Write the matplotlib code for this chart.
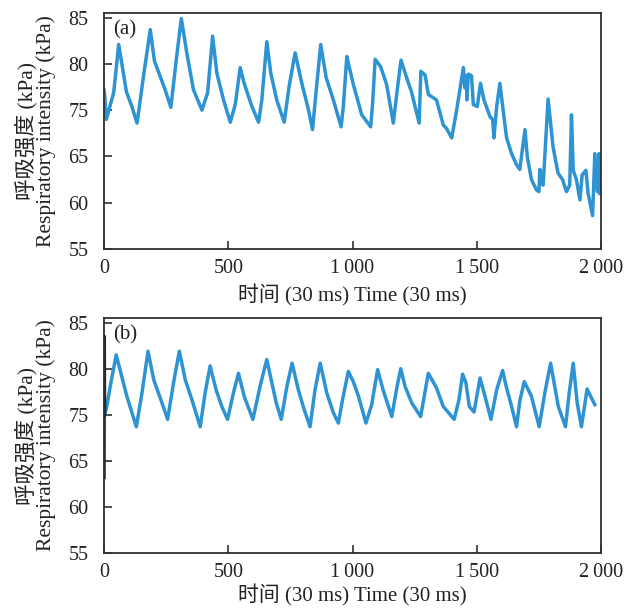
import matplotlib
matplotlib.use("Agg")
import matplotlib.pyplot as plt

# ---- data (panel a) ----
a_t = [0, 3, 9, 39, 59, 90, 112, 133, 159, 186, 203, 246, 269, 291, 311, 333, 360, 394,
       417, 437, 454, 481, 508, 528, 548, 564, 595, 622, 635, 655, 671, 695, 725, 745,
       769, 796, 823, 839, 853, 872, 894, 923, 954, 963, 977, 983, 1003, 1037, 1073,
       1081, 1091, 1113, 1137, 1164, 1180, 1195, 1218, 1238, 1268, 1275, 1292, 1305,
       1338, 1365, 1379, 1399, 1419, 1446, 1452, 1459, 1460, 1466, 1479, 1486, 1502,
       1515, 1529, 1553, 1564, 1569, 1580, 1593, 1606, 1620, 1640, 1660, 1673, 1694,
       1703, 1720, 1740, 1750, 1754, 1761, 1767, 1787, 1807, 1827, 1845, 1861, 1874,
       1881, 1888, 1901, 1915, 1924, 1939, 1948, 1966, 1975, 1985, 1992, 1995]
a_v = [77.2, 76.5, 74.0, 76.9, 82.1, 77.0, 75.4, 73.6, 78.7, 83.7, 80.3, 77.2, 75.3, 80.5,
       84.9, 81.2, 77.2, 75.0, 76.9, 83.0, 79.0, 76.1, 73.7, 75.6, 79.6, 77.9, 75.4,
       73.7, 76.1, 82.4, 79.0, 76.1, 73.7, 77.6, 81.2, 77.9, 75.0, 72.9, 76.9, 82.1,
       78.5, 76.1, 73.2, 75.4, 80.8, 80.1, 77.8, 74.5, 73.2, 75.8, 80.5, 79.7, 77.8,
       73.6, 77.2, 80.4, 78.5, 76.9, 73.6, 79.2, 78.8, 76.7, 76.1, 73.4, 73.0, 72.0,
       75.0, 79.6, 77.4, 78.7, 76.1, 78.9, 78.7, 75.6, 75.4, 77.9, 76.1, 74.3, 74.0,
       72.0, 75.4, 77.9, 75.0, 72.0, 70.3, 69.1, 68.6, 72.9, 70.0, 67.5, 66.4, 66.2,
       68.6, 67.1, 66.9, 76.2, 71.0, 68.2, 67.5, 66.2, 66.9, 74.5, 68.5, 67.5, 65.3,
       68.0, 68.5, 66.0, 63.6, 70.3, 66.2, 70.3, 66.0]

# ---- data (panel b) ----
b_init_t = [0, 1, 2]
b_init_v = [68.2, 83.5, 75.0]
b_t = [2, 9, 25, 49, 68, 92, 130, 153, 177, 200, 233, 256, 280, 303, 327, 354, 387, 407,
       427, 451, 474, 497, 521, 541, 564, 599, 628, 655, 675, 693, 713, 736, 757, 782,
       805, 829, 849, 870, 896, 923, 943, 961, 983, 1003, 1024, 1054, 1077, 1101, 1124,
       1158, 1178, 1194, 1211, 1238, 1274, 1305, 1338, 1365, 1409, 1428, 1443, 1456,
       1470, 1489, 1513, 1533, 1557, 1580, 1604, 1620, 1640, 1660, 1673, 1691, 1720,
       1751, 1774, 1797, 1828, 1857, 1872, 1888, 1904, 1921, 1944, 1958, 1975]
b_v = [75.0, 75.6, 78.1, 81.5, 79.5, 77.0, 73.7, 77.4, 81.9, 78.8, 76.3, 74.5, 78.5,
       81.9, 78.8, 76.6, 73.7, 77.4, 80.3, 77.7, 75.9, 74.5, 77.4, 79.5, 77.0, 74.5,
       78.1, 81.0, 78.5, 76.3, 74.5, 78.1, 80.6, 77.7, 75.6, 73.7, 77.7, 80.6, 77.4,
       75.2, 74.1, 76.8, 79.7, 78.6, 77.0, 74.1, 76.1, 79.9, 77.6, 74.8, 77.9, 80.0,
       78.1, 76.3, 74.8, 79.5, 77.9, 75.9, 74.5, 76.6, 79.4, 78.5, 75.9, 75.3, 79.0,
       77.0, 74.5, 77.7, 79.8, 77.9, 75.9, 73.7, 76.5, 78.6, 77.0, 73.7, 77.4, 80.6,
       75.9, 73.7, 77.4, 80.6, 76.3, 73.7, 77.8, 77.0, 76.1]

# axis ticks (labels as printed in the original figure)
y_ticks = [60, 65, 70, 75, 80, 85]
y_ticklabels = ["55", "60", "65", "75", "80", "85"]
x_ticks = [0, 500, 1000, 1500, 2000]
x_ticklabels = ["0", "500", "1\u2009000", "1\u2009500", "2\u2009000"]

ylabel = "呼吸强度 (kPa)\nRespiratory intensity (kPa)"
xlabel = "时间 (30 ms) Time (30 ms)"

serif = ["Liberation Serif", "Noto Sans CJK SC", "DejaVu Serif"]
plt.rcParams["font.family"] = serif

BLUE = "#2e93d3"
SPINE = "#2f2f2f"
TXT = "#222222"

fig = plt.figure(figsize=(6.27, 6.10), dpi=100)
ax_a = fig.add_axes([0.1659, 0.5918, 0.7927, 0.3869])
ax_b = fig.add_axes([0.1659, 0.0934, 0.7927, 0.3853])

def style(ax, letter, xpad):
    ax.set_xlim(0, 2000)
    ax.set_ylim(60, 85.5)
    ax.set_yticks(y_ticks)
    ax.set_yticklabels(y_ticklabels)
    ax.set_xticks(x_ticks)
    ax.set_xticklabels(x_ticklabels)
    ax.tick_params(axis="both", direction="in", length=6, width=1.2, color=SPINE,
                   labelsize=14.5, labelcolor=TXT)
    ax.tick_params(axis="y", pad=11)
    ax.tick_params(axis="x", pad=7)
    for s in ax.spines.values():
        s.set_color(SPINE)
        s.set_linewidth(1.3)
    ax.set_ylabel(ylabel, fontsize=15.5, color=TXT, linespacing=0.95, labelpad=9)
    ax.set_xlabel(xlabel, fontsize=15, color=TXT, labelpad=xpad)
    ax.text(0.018, 0.97, letter, transform=ax.transAxes, ha="left", va="top",
            fontsize=15, color=TXT)

ax_a.plot(a_t, a_v, color=BLUE, lw=2.5, solid_joinstyle="round")
ax_b.plot(b_t, b_v, color=BLUE, lw=2.5, solid_joinstyle="round")
ax_b.plot(b_init_t, b_init_v, color="#1c2733", lw=2.5)

style(ax_a, "(a)", 5)
style(ax_b, "(b)", 2)

fig.savefig("out.png", dpi=100)
